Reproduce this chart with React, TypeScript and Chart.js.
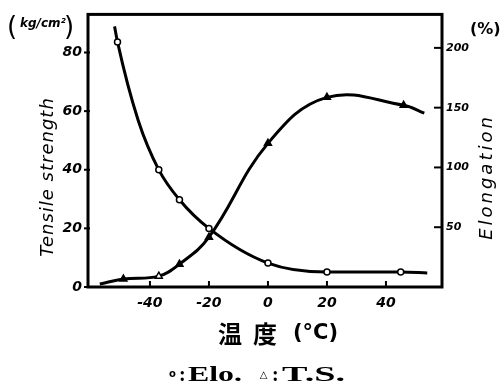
import React, { useEffect, useRef } from 'react';
import { Chart, registerables } from 'chart.js';

Chart.register(...registerables);

// Elongation (circles, right axis, %) — unmarked entries are curve points
const eloTemps = [-52, -51, -44, -37, -30, -20, 0, 20, 45, 54];
const eloValues = [218, 205, 139.5, 98, 73, 49, 20, 12.5, 12.5, 11.7];
const eloMarked = [false, true, false, true, true, true, true, true, true, false];

// Tensile strength (triangles, left axis, kg/cm²)
const tsTemps = [-57, -49, -37, -30, -20, 0, 20, 46, 53];
const tsValues = [1.0, 2.7, 3.7, 7.8, 17, 49, 64.7, 62, 59.3];
const tsMarked = [false, true, true, true, true, true, true, true, false];
const tsHollow = [false, false, true, false, false, false, false, false, false];

const xTickValues = [-40, -20, 0, 20, 40];
const leftTickValues = [0, 20, 40, 60, 80];
const rightTickValues = [50, 100, 150, 200];

const tickFont = { family: 'DejaVu Sans', style: 'italic' as const, weight: 'bold' as const, size: 14 };
const rightTickFont = { family: 'DejaVu Sans', style: 'italic' as const, weight: 'bold' as const, size: 11 };

const decorPlugin = {
  id: 'decor',
  afterDraw(chart: any) {
    const { ctx, chartArea: a, scales } = chart;
    ctx.save();
    ctx.strokeStyle = '#000';
    ctx.fillStyle = '#000';
    ctx.lineWidth = 3;
    ctx.strokeRect(a.left, a.top, a.right - a.left, a.bottom - a.top);

    const line = (x1: number, y1: number, x2: number, y2: number) => {
      ctx.beginPath();
      ctx.moveTo(x1, y1);
      ctx.lineTo(x2, y2);
      ctx.stroke();
    };
    ctx.lineWidth = 2;
    xTickValues.forEach((v) => {
      const x = scales.x.getPixelForValue(v);
      line(x, a.bottom, x, a.bottom - 6);
    });
    leftTickValues.forEach((v) => {
      const y = scales.y.getPixelForValue(v);
      line(a.left - 4, y, a.left + 2, y);
    });
    rightTickValues.forEach((v) => {
      const y = scales.y1.getPixelForValue(v);
      line(a.right - 8, y, a.right, y);
    });

    // Unit labels
    ctx.textBaseline = 'middle';
    ctx.textAlign = 'left';
    ctx.font = '26px "DejaVu Sans"';
    ctx.fillText('(', 7, 28);
    ctx.font = 'italic bold 12px "DejaVu Sans"';
    ctx.fillText('kg/cm²', 20, 24);
    ctx.font = '26px "DejaVu Sans"';
    ctx.fillText(')', 64, 28);

    ctx.font = 'bold 16px "DejaVu Sans"';
    ctx.fillText('(%)', 470, 30);

    // Rotated axis titles
    ctx.font = 'italic 18px "DejaVu Sans"';
    (ctx as any).letterSpacing = '1px';
    ctx.save();
    ctx.translate(48, 177);
    ctx.rotate(-Math.PI / 2);
    ctx.textAlign = 'center';
    ctx.fillText('Tensile strength', 0, 0);
    ctx.restore();

    (ctx as any).letterSpacing = '3px';
    ctx.save();
    ctx.translate(487, 177);
    ctx.rotate(-Math.PI / 2);
    ctx.textAlign = 'center';
    ctx.fillText('Elongation', 0, 0);
    ctx.restore();
    (ctx as any).letterSpacing = '0px';

    // X axis title
    ctx.textAlign = 'left';
    ctx.font = 'bold 24px "Noto Sans CJK JP"';
    ctx.fillText('温', 218, 334);
    ctx.fillText('度', 253, 334);
    ctx.font = 'bold 21px "DejaVu Sans"';
    ctx.fillText('(°C)', 293, 334);

    // Legend text
    ctx.textBaseline = 'middle';
    ctx.textAlign = 'center';
    ctx.font = 'bold 10px "DejaVu Sans"';
    ctx.fillText('o', 172.5, 374);
    ctx.fillText('△', 263.5, 375);
    ctx.textAlign = 'left';
    ctx.textBaseline = 'alphabetic';
    ctx.font = 'bold 20px "Liberation Serif"';
    ctx.fillText(':', 179, 381);
    ctx.fillText(':', 272, 381);
    const stretched = (text: string, x: number, width: number) => {
      const w = ctx.measureText(text).width;
      ctx.save();
      ctx.translate(x, 381);
      ctx.scale(width / w, 1);
      ctx.fillText(text, 0, 0);
      ctx.restore();
    };
    stretched('Elo.', 188, 54);
    stretched('T.S.', 282, 63);
    ctx.restore();
  },
};

export default function App() {
  const ref = useRef<HTMLCanvasElement | null>(null);
  useEffect(() => {
    if (!ref.current) return;
    const chart = new Chart(ref.current, {
      type: 'line',
      data: {
        datasets: [
          {
            label: 'Elo.',
            data: eloTemps.map((t, i) => ({ x: t, y: eloValues[i] })),
            yAxisID: 'y1',
            borderColor: '#000',
            borderWidth: 3,
            cubicInterpolationMode: 'monotone',
            pointStyle: 'circle',
            pointRadius: eloMarked.map((m) => (m ? 3 : 0)),
            pointBackgroundColor: '#fff',
            pointBorderColor: '#000',
            pointBorderWidth: 1.5,
          },
          {
            label: 'T.S.',
            data: tsTemps.map((t, i) => ({ x: t, y: tsValues[i] })),
            yAxisID: 'y',
            borderColor: '#000',
            borderWidth: 3,
            tension: 0.4,
            pointStyle: 'triangle',
            pointRadius: tsMarked.map((m) => (m ? 4 : 0)),
            pointBackgroundColor: tsHollow.map((h) => (h ? '#fff' : '#000')),
            pointBorderColor: '#000',
            pointBorderWidth: 1.5,
          },
        ],
      },
      options: {
        responsive: false,
        animation: false,
        events: [],
        layout: { padding: { top: 14, left: 0, right: 0, bottom: 0 } },
        plugins: { legend: { display: false }, tooltip: { enabled: false } },
        scales: {
          x: {
            type: 'linear',
            min: -61,
            max: 59,
            grid: { display: false, drawTicks: false },
            border: { display: false },
            afterBuildTicks: (s: any) => {
              s.ticks = xTickValues.map((v) => ({ value: v }));
            },
            ticks: { font: tickFont, color: '#000', padding: 8 },
            afterFit: (s: any) => {
              s.height = 95;
            },
          },
          y: {
            position: 'left',
            min: 0,
            max: 93,
            grid: { display: false, drawTicks: false },
            border: { display: false },
            afterBuildTicks: (s: any) => {
              s.ticks = leftTickValues.map((v) => ({ value: v }));
            },
            ticks: { font: tickFont, color: '#000', padding: 6 },
            afterFit: (s: any) => {
              s.width = 88;
            },
          },
          y1: {
            position: 'right',
            min: 0,
            max: 228,
            grid: { display: false, drawTicks: false },
            border: { display: false },
            afterBuildTicks: (s: any) => {
              s.ticks = rightTickValues.map((v) => ({ value: v }));
            },
            ticks: { font: rightTickFont, color: '#000', padding: 4 },
            afterFit: (s: any) => {
              s.width = 62;
            },
          },
        },
      },
      plugins: [decorPlugin],
    });
    return () => chart.destroy();
  }, []);

  return (
    <div style={{ position: 'absolute', left: 0, top: 0, width: 504, height: 382, background: '#fff' }}>
      <canvas ref={ref} width={504} height={382} />
    </div>
  );
}
